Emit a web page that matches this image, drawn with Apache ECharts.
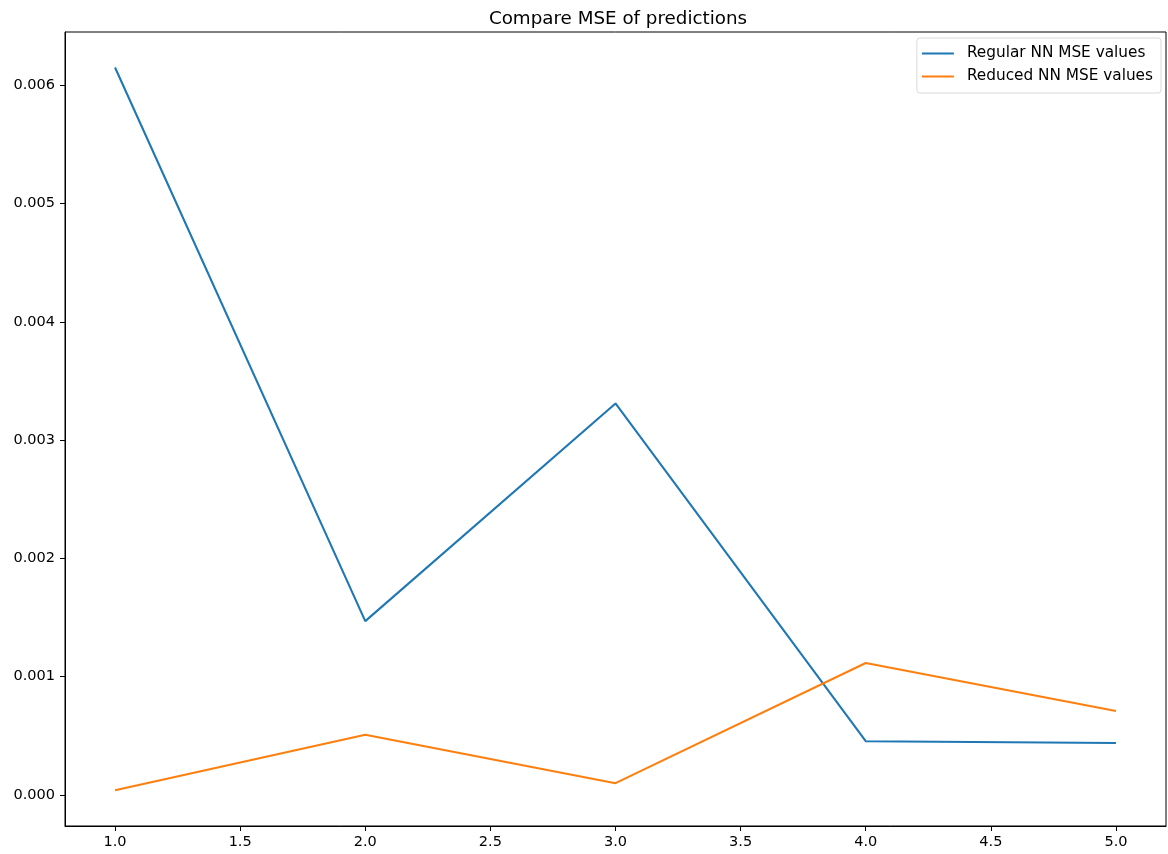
<!DOCTYPE html>
<html>
<head>
<meta charset="utf-8">
<script src="https://cdn.jsdelivr.net/npm/echarts@6/dist/echarts.min.js"></script>
<style>html,body{margin:0;padding:0;background:#fff}#c{width:1168px;height:854px}</style>
</head>
<body>
<div id="c"></div>
<script>
const xValues = [1, 2, 3, 4, 5];
const regularMSE = [0.00615, 0.00147, 0.00331, 0.000455, 0.00044];
const reducedMSE = [0.00004, 0.00051, 0.0001, 0.001116, 0.00071];
const xTicks = [1.0, 1.5, 2.0, 2.5, 3.0, 3.5, 4.0, 4.5, 5.0];
const yTicks = [0, 0.001, 0.002, 0.003, 0.004, 0.005, 0.006];
const seriesNames = ['Regular NN MSE values', 'Reduced NN MSE values'];

const chart = echarts.init(document.getElementById('c'), null, {renderer: 'canvas'});
const font = 'DejaVu Sans';
chart.setOption({
  animation: false,
  title: {
    text: 'Compare MSE of predictions',
    left: 613, textAlign: 'center', top: 5,
    textStyle: {fontFamily: font, fontSize: 18.3, fontWeight: 'normal', color: '#000'}
  },
  grid: {left: 65, right: 2, top: 32, bottom: 28, show: true, borderColor: '#000', borderWidth: 1, containLabel: false},
  legend: {
    orient: 'vertical', right: 7, top: 38,
    data: seriesNames,
    icon: 'rect', itemWidth: 32, itemHeight: 2, itemGap: 8,
    padding: [8, 8, 9, 5],
    borderColor: '#d9d9d9', borderWidth: 1, borderRadius: 3,
    backgroundColor: 'rgba(255,255,255,0.8)',
    textStyle: {fontFamily: font, fontSize: 15.3, color: '#000', padding: [0, 0, 0, 8]}
  },
  xAxis: {
    type: 'value', min: 0.8, max: 5.2,
    splitLine: {show: false},
    axisLine: {show: true, onZero: false, lineStyle: {color: '#000', width: 1}},
    axisTick: {show: true, length: 5, lineStyle: {color: '#000'}, customValues: xTicks},
    axisLabel: {customValues: xTicks, margin: 9, fontFamily: font, fontSize: 14.5, color: '#000',
      formatter: v => v.toFixed(1)}
  },
  yAxis: {
    type: 'value', min: -0.000262, max: 0.00645,
    splitLine: {show: false},
    axisLine: {show: true, onZero: false, lineStyle: {color: '#000', width: 1}},
    axisTick: {show: true, length: 5, lineStyle: {color: '#000'}, customValues: yTicks},
    axisLabel: {customValues: yTicks, margin: 10, fontFamily: font, fontSize: 14.5, color: '#000',
      formatter: v => v.toFixed(3)}
  },
  series: [
    {name: seriesNames[0], type: 'line', data: xValues.map((x, i) => [x, regularMSE[i]]),
      showSymbol: false, symbol: 'none', color: '#1f77b4', lineStyle: {width: 2.1, color: '#1f77b4'}},
    {name: seriesNames[1], type: 'line', data: xValues.map((x, i) => [x, reducedMSE[i]]),
      showSymbol: false, symbol: 'none', color: '#ff7f0e', lineStyle: {width: 2.1, color: '#ff7f0e'}}
  ]
});
</script>
</body>
</html>
